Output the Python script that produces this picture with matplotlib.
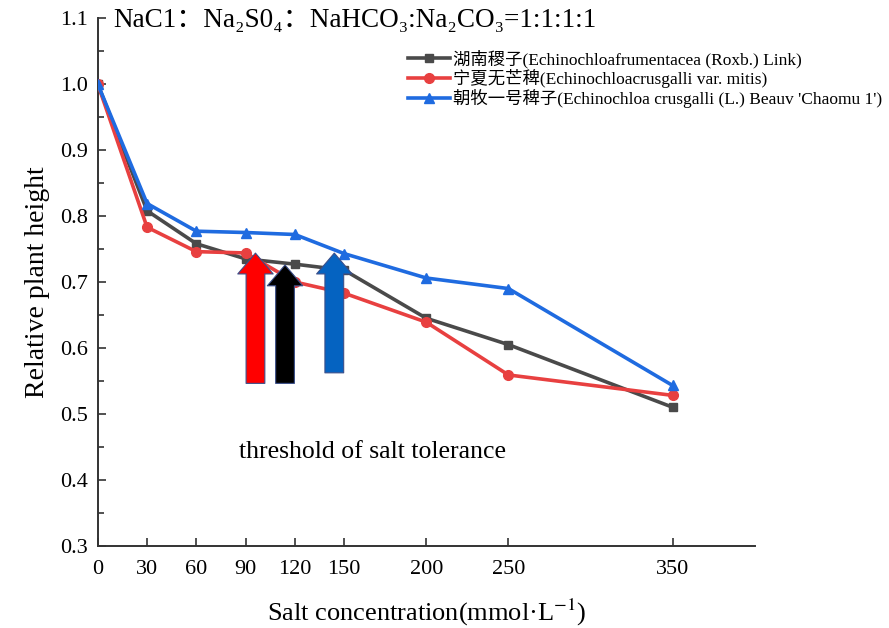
import matplotlib
matplotlib.use("Agg")
import matplotlib.pyplot as plt
from matplotlib.ticker import MultipleLocator

FAM = ['Liberation Serif', 'DejaVu Serif', 'Noto Sans CJK SC']
plt.rcParams['font.family'] = FAM
plt.rcParams['mathtext.fontset'] = 'stix'

conc = [0, 30, 60, 90, 120, 150, 200, 250, 350]
hunan = [1.0, 0.808, 0.758, 0.735, 0.727, 0.718, 0.645, 0.605, 0.510]
ningxia = [1.0, 0.783, 0.746, 0.744, 0.700, 0.683, 0.639, 0.559, 0.528]
chaomu = [1.0, 0.819, 0.777, 0.775, 0.772, 0.743, 0.706, 0.690, 0.543]
labels = ["湖南稷子(Echinochloafrumentacea (Roxb.) Link)",
          "宁夏无芒稗(Echinochloacrusgalli var. mitis)",
          "朝牧一号稗子(Echinochloa crusgalli (L.) Beauv 'Chaomu 1')"]

# threshold arrows: x position, base, tip
arrow_x = [96, 114, 144]
arrow_base = [0.542, 0.542, 0.558]
arrow_tip = [0.748, 0.730, 0.748]
arrow_colors = ['#ff0000', '#000000', '#0563c1']

fig = plt.figure(figsize=(8.89, 6.28), dpi=100)
ax = fig.add_axes([0.110, 0.131, 0.739, 0.840])

ax.plot(conc, hunan, color='#4a4a4a', marker='s', markersize=6, lw=2.6, label=labels[0], zorder=3)
ax.plot(conc, ningxia, color='#e84040', marker='o', markersize=7, lw=2.6, label=labels[1], zorder=3)
ax.plot(conc, chaomu, color='#1f6be0', marker='^', markersize=7, lw=2.6, label=labels[2], zorder=4)

for x, b, t, c in zip(arrow_x, arrow_base, arrow_tip, arrow_colors):
    ax.annotate('', xy=(x, t), xytext=(x, b),
                arrowprops=dict(arrowstyle='simple,head_length=1.0,head_width=1.7,tail_width=0.9',
                                fc=c, ec='#3b4f8a', lw=0.8, mutation_scale=15),
                zorder=5)

ax.text(167, 0.442, 'threshold of salt tolerance', fontsize=18.5, ha='center', va='center')

ax.set_xlim(0, 400)
ax.set_ylim(0.3, 1.1)
ax.set_xticks(conc)
ax.yaxis.set_major_locator(MultipleLocator(0.1))
ax.yaxis.set_minor_locator(MultipleLocator(0.05))
ax.tick_params(axis='both', which='both', direction='in', labelsize=16, width=1.2, color='#333333')
ax.tick_params(axis='x', which='major', length=6, pad=10)
ax.tick_params(axis='y', which='major', length=6, pad=7)
ax.tick_params(axis='y', which='minor', length=4)
for s in ['top', 'right']:
    ax.spines[s].set_visible(False)
for s in ['left', 'bottom']:
    ax.spines[s].set_linewidth(1.4)
    ax.spines[s].set_color('#333333')

ax.set_xlabel('Salt concentration(mmol·L$^{-1}$)', fontsize=19)
ax.set_ylabel('Relative plant height', fontsize=20)
ax.xaxis.set_label_coords(0.5, -0.098)
ax.yaxis.set_label_coords(-0.072, 0.5)

fig.text(0.127, 0.967, 'NaC1：Na₂S0₄：NaHCO₃:Na₂CO₃=1:1:1:1', fontsize=19.5, ha='left', va='center')

leg = ax.legend(loc='upper left', bbox_to_anchor=(0.472, 0.94), frameon=False, fontsize=12.5,
                handlelength=2.4, borderaxespad=0, borderpad=0, labelspacing=0.05, handletextpad=0.2)

fig.savefig('out.png', dpi=100)
